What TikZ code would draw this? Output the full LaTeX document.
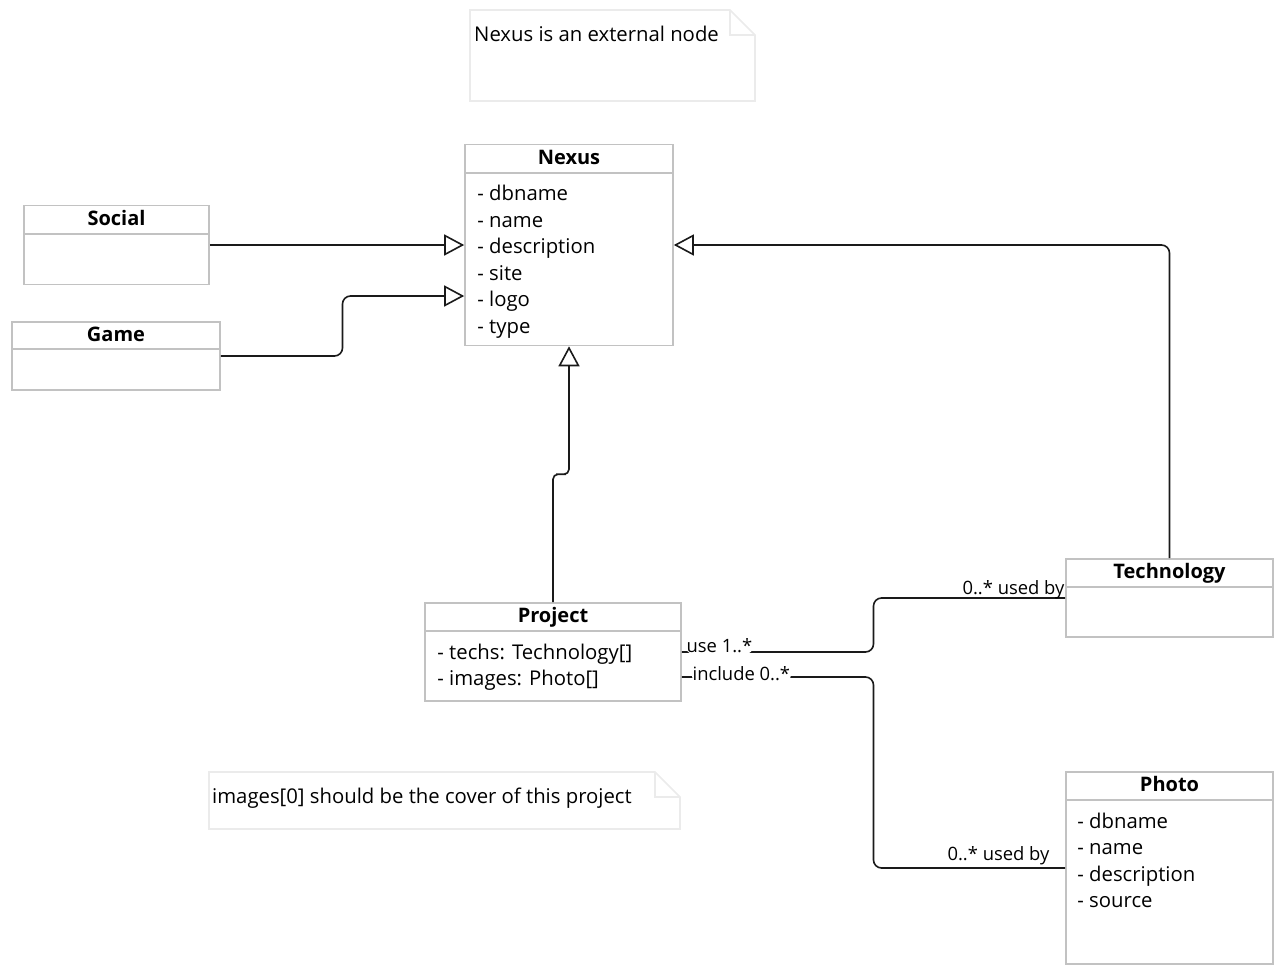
\documentclass[tikz,border=0pt]{standalone}
\usepackage{fontspec}
\setmainfont{Open Sans}
\usepackage{xcolor}
\usepackage{tikz}
\usetikzlibrary{arrows.meta, positioning, calc}

\definecolor{boxgray}{HTML}{C2C2C2}
\definecolor{notegray}{HTML}{EBEBEB}
\definecolor{wire}{HTML}{1A1A1A}

\begin{document}
\begin{tikzpicture}[
  x=1pt, y=-1pt,
  font=\fontsize{20.3}{26.5}\selectfont,
  classbox/.style={
    draw=boxgray,
    fill=white,
    line width=1.6pt,
    inner sep=0pt
  },
  classtitle/.style={
    font=\fontsize{20}{24}\selectfont\bfseries,
    inner sep=0pt,
    anchor=base
  },
  classattr/.style={
    align=left,
    inner sep=0pt,
    anchor=north west
  },
  sepline/.style={
    draw=boxgray,
    line width=1.6pt
  },
  notebox/.style={
    draw=notegray,
    fill=white,
    line width=1.6pt
  },
  notetext/.style={
    inner sep=0pt,
    anchor=base west
  },
  gen/.style={
    draw=wire,
    line width=1.6pt,
    rounded corners=8pt,
    -{Triangle[open, length=20pt, width=21pt, fill=white]}
  },
  assoc/.style={
    draw=wire,
    line width=1.6pt,
    rounded corners=8pt
  },
  tag/.style={
    font=\fontsize{18.4}{22}\selectfont,
    fill=white,
    inner sep=1pt
  }
]

\useasboundingbox (0,0) rectangle (1287,974);

% Notes
\node[minimum width=285, minimum height=91, outer sep=0pt, inner sep=0pt, anchor=north west] (notea) at (470,10) {};
\draw[notebox] (notea.north west) -- ([xshift=-25pt]notea.north east) -- ([yshift=-25pt]notea.north east)
  -- (notea.south east) -- (notea.south west) -- cycle;
\draw[notebox, fill=none] ([xshift=-25pt]notea.north east) |- ([yshift=-25pt]notea.north east);
\node[notetext] (noteatext) at ([xshift=4pt, yshift=-31.5pt]notea.north west) {Nexus is an external node};

\node[minimum width=471, minimum height=57, outer sep=0pt, inner sep=0pt, anchor=north west] (noteb) at (209,772) {};
\draw[notebox] (noteb.north west) -- ([xshift=-25pt]noteb.north east) -- ([yshift=-25pt]noteb.north east)
  -- (noteb.south east) -- (noteb.south west) -- cycle;
\draw[notebox, fill=none] ([xshift=-25pt]noteb.north east) |- ([yshift=-25pt]noteb.north east);
\node[notetext] (notebtext) at ([xshift=3pt, yshift=-31.5pt]noteb.north west) {images[0] should be the cover of this project};

% Nexus
\node[classbox, minimum width=208, minimum height=201] (nexus) at (569,245) {};
\draw[sepline] ([yshift=-29pt]nexus.north west) -- ([yshift=-29pt]nexus.north east);
\node[classtitle] (nexustitle) at ([yshift=-20.5pt]nexus.north) {Nexus};
\node[classattr] (nexusattr) at ([xshift=13pt, yshift=-41.5pt]nexus.north west)
{- dbname\\- name\\- description\\- site\\- logo\\- type};

% Social
\node[classbox, minimum width=185, minimum height=79] (social) at (116.5,245) {};
\draw[sepline] ([yshift=-29pt]social.north west) -- ([yshift=-29pt]social.north east);
\node[classtitle] (socialtitle) at ([yshift=-20.5pt]social.north) {Social};

% Game
\node[classbox, minimum width=208, minimum height=68] (game) at (116,356) {};
\draw[sepline] ([yshift=-28pt]game.north west) -- ([yshift=-28pt]game.north east);
\node[classtitle] (gametitle) at ([yshift=-20pt]game.north) {Game};

% Technology
\node[classbox, minimum width=207, minimum height=78] (tech) at (1169.5,598) {};
\draw[sepline] ([yshift=-29pt]tech.north west) -- ([yshift=-29pt]tech.north east);
\node[classtitle] (techtitle) at ([yshift=-20.5pt]tech.north) {Technology};

% Project
\node[classbox, minimum width=256, minimum height=98] (project) at (553,652) {};
\draw[sepline] ([yshift=-29pt]project.north west) -- ([yshift=-29pt]project.north east);
\node[classtitle] (projecttitle) at ([yshift=-20.5pt]project.north) {Project};
\node[classattr] (projectattr) at ([xshift=13pt, yshift=-41.5pt]project.north west)
{- techs: Technology[]\\- images: Photo[]};

% Photo
\node[classbox, minimum width=207, minimum height=192] (photo) at (1169.5,868) {};
\draw[sepline] ([yshift=-29pt]photo.north west) -- ([yshift=-29pt]photo.north east);
\node[classtitle] (phototitle) at ([yshift=-20.5pt]photo.north) {Photo};
\node[classattr] (photoattr) at ([xshift=12pt, yshift=-41.5pt]photo.north west)
{- dbname\\- name\\- description\\- source};

% Ports
\coordinate (nexusport) at ([yshift=-51pt]nexus.west);
\coordinate (projectport) at ([yshift=-25pt]project.east);

% Generalisations
\draw[gen] (social.east) -- (nexus.west);
\draw[gen] (game.east) -| ($(game.east)!.5!(nexusport)$) |- (nexusport);
\draw[gen] (tech.north) |- (nexus.east);
\draw[gen, rounded corners=5pt] (project.north) |- ($(project.north)!.5!(nexus.south)$) -| (nexus.south);

% Associations
\draw[assoc] (project.east) node[tag, anchor=west, xshift=3pt, yshift=6pt] {use 1..*}
  -| ($(project.east)!.5!(tech.west)$) |- (tech.west)
  node[tag, fill=none, anchor=south east, xshift=1pt, yshift=-2.5pt] {0..* used by};
\draw[assoc] (projectport) node[tag, anchor=west, xshift=9pt, yshift=3pt] {include 0..*}
  -| ($(projectport)!.5!(photo.west)$) |- (photo.west)
  node[tag, fill=none, anchor=south east, xshift=-14pt, yshift=1pt] {0..* used by};

\end{tikzpicture}
\end{document}
